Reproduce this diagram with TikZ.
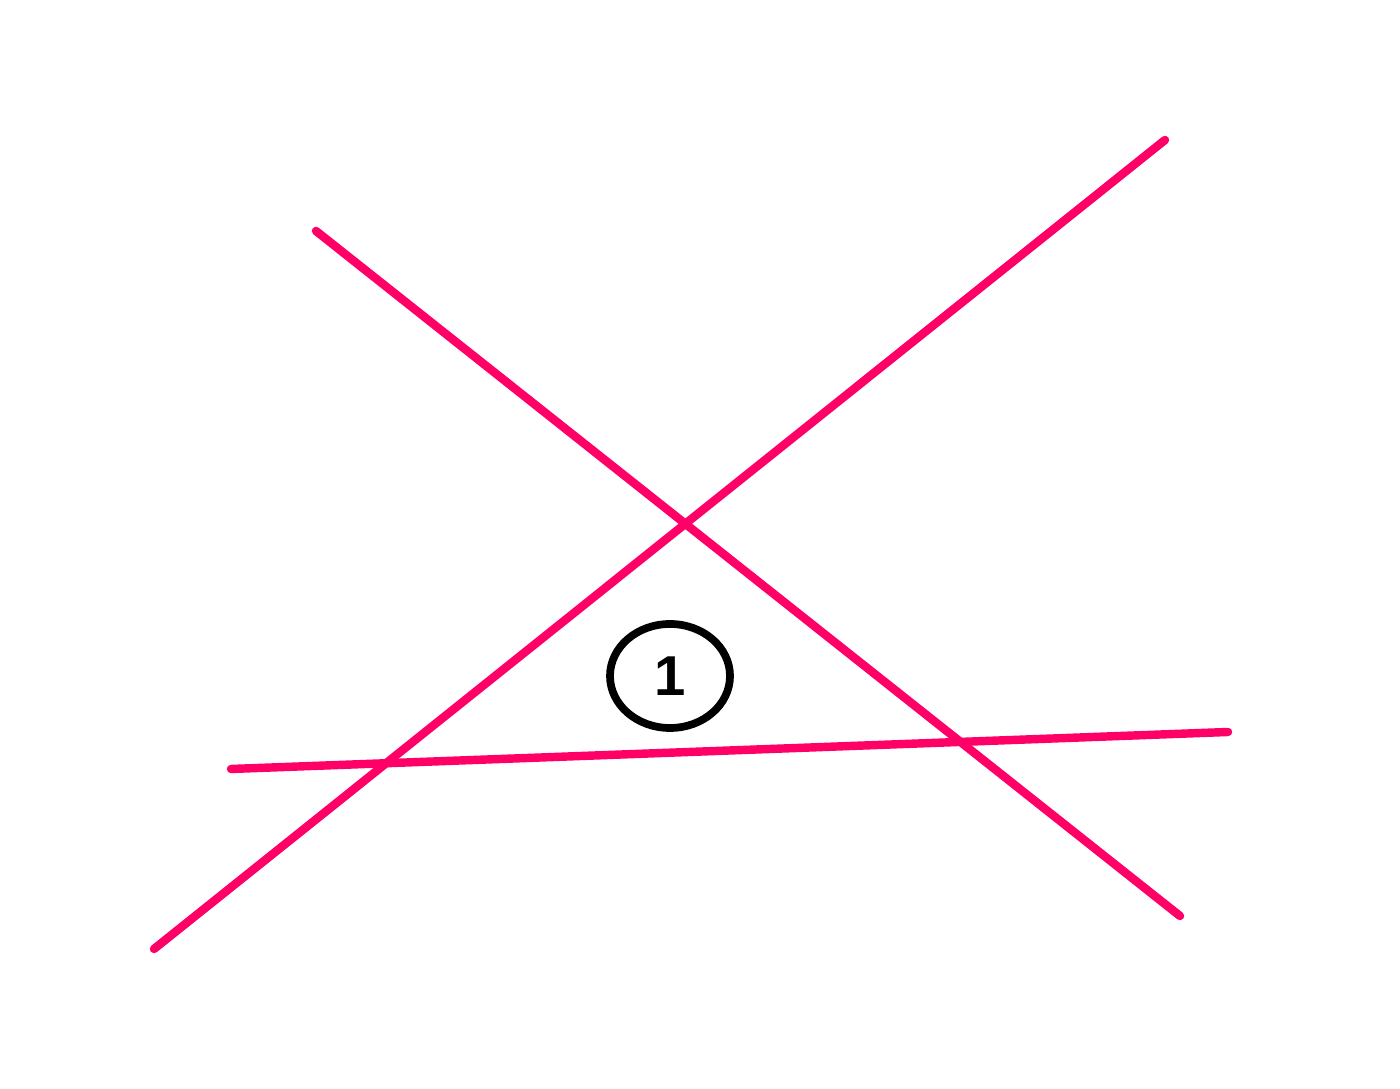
\documentclass[tikz,border=0pt]{standalone}
\usepackage{fontspec}
\setsansfont{Liberation Sans}
\usetikzlibrary{shapes.geometric}
\definecolor{linepink}{HTML}{FF0066}

\begin{document}
\begin{tikzpicture}[
    pinkline/.style={linepink, line width=2.4pt, line cap=round},
    label/.style={draw, black, ellipse, line width=2.2pt, minimum width=1.2cm, minimum height=1.04cm, inner sep=0pt, font=\sffamily\bfseries\fontsize{16}{18}\selectfont}
]
\useasboundingbox (0,0) rectangle (14,10.89);
\coordinate (a1) at (3.16,8.58);
\coordinate (a2) at (11.80,1.73);
\coordinate (b1) at (1.54,1.40);
\coordinate (b2) at (11.65,9.49);
\coordinate (c1) at (2.31,3.20);
\coordinate (c2) at (12.28,3.57);
\node[label] (one) at (6.70,4.13) {1};

\draw[pinkline] (a1) -- (a2);
\draw[pinkline] (b1) -- (b2);
\draw[pinkline] (c1) -- (c2);
\end{tikzpicture}
\end{document}
